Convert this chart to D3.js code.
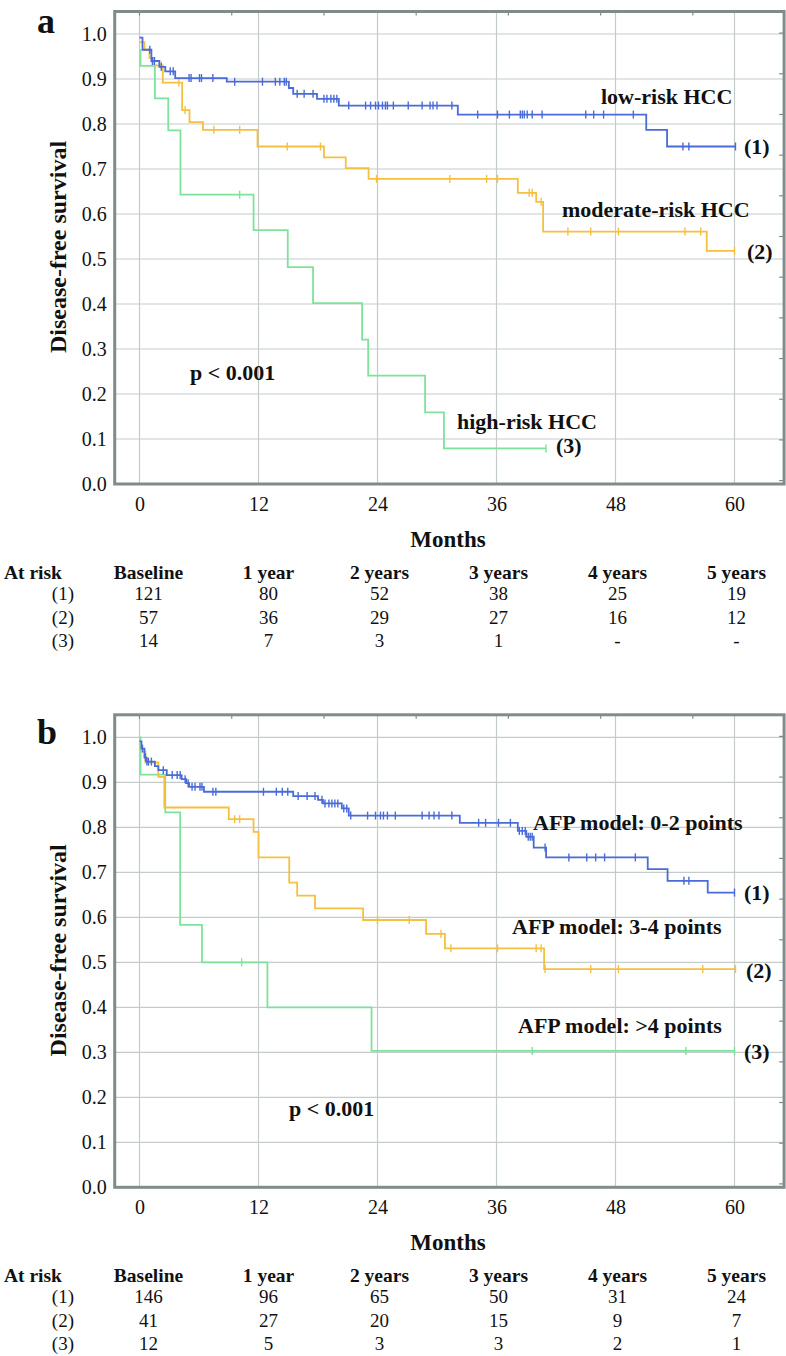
<!DOCTYPE html>
<html>
<head>
<meta charset="utf-8">
<script src="https://d3js.org/d3.v7.min.js"></script>
<style>
  body { margin: 0; background: #fff; }
  text { font-family: "Liberation Serif", "Times New Roman", serif; fill: #111; }
</style>
</head>
<body>
<script>
// ---- data ----
var months = [0, 12, 24, 36, 48, 60]
var survTicks = [0.1, 0.2, 0.3, 0.4, 0.5, 0.6, 0.7, 0.8, 0.9, 1.0]
var tableCols = ["Baseline", "1 year", "2 years", "3 years", "4 years", "5 years"]
var rowLabels = ["(1)", "(2)", "(3)"]

// panel a : [month, survival] where the curve steps to that value
var aLowSteps = [[0,0.992],[0.3,0.965],[1.2,0.94],[2.0,0.927],[2.6,0.917],[3.6,0.902],[8.8,0.894],[15.06,0.88],[15.5,0.867],[17.9,0.856],[20.1,0.841],[32.1,0.821],[51.1,0.787],[53.2,0.75]]
var aLowEnd = 60.1
var aLowCens = [1.04,1.3,1.5,2.2,3.1,3.4,5.0,5.2,6.05,6.25,7.4,9.6,12.4,13.7,14.15,14.6,14.8,15.9,16.6,17.5,18.6,18.9,19.3,19.6,19.9,21.1,22.8,23.3,23.8,24.1,24.5,24.8,25.0,25.6,27.1,28.5,29.3,29.6,30.0,31.5,34.1,36.1,37.3,38.4,38.6,38.8,39.1,39.6,40.6,45.0,45.8,46.8,49.8,54.8,55.4,60.1]
var aModSteps = [[0,0.982],[0.5,0.965],[1.0,0.947],[1.5,0.93],[2.35,0.892],[4.3,0.831],[5.04,0.804],[6.4,0.787],[11.9,0.75],[18.6,0.726],[20.8,0.702],[23.1,0.678],[38.15,0.647],[40.0,0.627],[40.7,0.561],[57.2,0.518]]
var aModEnd = 60
var aModCens = [2.2,3.97,4.6,7.5,10.1,14.9,18.25,23.9,31.3,35.0,36.1,39.3,39.6,40.5,43.2,45.5,48.3,55.0,56.6,60.0]
var aHighSteps = [[0,0.964],[0.1,0.929],[1.55,0.857],[2.9,0.786],[4.13,0.643],[11.5,0.564],[14.95,0.482],[17.5,0.402],[22.45,0.321],[23.06,0.241],[28.8,0.159],[30.7,0.079]]
var aHighEnd = 41.0
var aHighCens = [10.1, 41.0]

// panel b
var bLowSteps = [[0,0.991],[0.2,0.975],[0.5,0.955],[0.7,0.946],[1.55,0.936],[1.9,0.927],[2.75,0.916],[4.25,0.907],[4.7,0.898],[5.0,0.89],[6.5,0.879],[15.5,0.8695],[18.0,0.861],[18.5,0.853],[20.4,0.842],[21.1,0.826],[32.3,0.81],[38.15,0.792],[39.0,0.779],[39.75,0.755],[41.0,0.733],[51.25,0.707],[53.25,0.681],[57.3,0.655]]
var bLowEnd = 60
var bLowCens = [0.3,0.6,0.75,0.9,1.2,2.4,3.3,3.8,4.1,4.6,4.9,5.3,5.6,6.1,6.3,7.4,7.7,12.5,13.8,14.4,14.95,16.0,16.9,17.7,18.4,18.7,19.1,19.4,19.7,20.0,20.6,20.9,21.3,23.0,23.8,24.3,24.6,25.0,25.8,28.5,29.2,29.7,30.2,31.5,34.2,34.9,36.2,37.4,38.3,38.6,38.9,39.2,39.4,39.6,40.9,43.3,45.1,46.0,46.9,50.0,54.9,55.4,60.0]
var bMidSteps = [[0,0.976],[0.3,0.968],[0.6,0.944],[1.9,0.912],[2.5,0.844],[9.0,0.818],[11.5,0.79],[12.0,0.733],[15.1,0.677],[15.9,0.648],[17.7,0.62],[22.55,0.594],[28.9,0.563],[30.8,0.531],[40.8,0.485]]
var bMidEnd = 60.1
var bMidCens = [9.6,10.1,24.0,27.2,30.4,31.4,36.1,40.0,40.5,40.9,45.5,48.3,56.8,60.1]
var bHighSteps = [[0,1.0],[0.1,0.917],[2.6,0.833],[4.1,0.583],[6.3,0.5],[12.9,0.4],[23.4,0.303]]
var bHighEnd = 60
var bHighCens = [10.3,39.6,55.1,60]

var atRiskA = [[121,80,52,38,25,19],[57,36,29,27,16,12],[14,7,3,1,"-","-"]]
var atRiskB = [[146,96,65,50,31,24],[41,27,20,15,9,7],[12,5,3,3,2,1]]

var colors = { low: "#4a6bd8", mid: "#f5c040", high: "#7de39a" }

var svg = d3.select("body").append("svg")
  .attr("width", 786)
  .attr("height", 1356)

function drawPanel(p) {
  var x = d3.scaleLinear().domain([0, 60]).range([139.5, 734.5])
  var y = d3.scaleLinear().domain([0, 1]).range([p.y0, p.y0 - 450])
  var g = svg.append("g")
  var left = x(-2.5), right = x(65), top = y(1.05), bottom = y(0)

  // grid
  g.selectAll(".vg").data(months).enter().append("line")
    .attr("x1", d => x(d)).attr("x2", d => x(d))
    .attr("y1", top).attr("y2", bottom)
    .attr("stroke", "#c5cbcb").attr("stroke-width", 1.2)
  g.selectAll(".hg").data(survTicks).enter().append("line")
    .attr("x1", left).attr("x2", right)
    .attr("y1", d => y(d)).attr("y2", d => y(d))
    .attr("stroke", "#c5cbcb").attr("stroke-width", 1.2)

  // small ticks on top and right edges
  g.selectAll(".tt").data(d3.range(0, 62, 9.3)).enter().append("line")
    .attr("x1", d => x(d)).attr("x2", d => x(d))
    .attr("y1", top).attr("y2", top + 4)
    .attr("stroke", "#808c8c").attr("stroke-width", 1.2)
  g.selectAll(".rt").data(d3.range(0, 12)).enter().append("line")
    .attr("x1", right - 5).attr("x2", right)
    .attr("y1", d => y(1.002 - d * 0.0904)).attr("y2", d => y(1.002 - d * 0.0904))
    .attr("stroke", "#808c8c").attr("stroke-width", 1.2)

  // curves
  var line = d3.line().x(d => x(d[0])).y(d => y(d[1])).curve(d3.curveStepAfter)
  p.curves.forEach(function(c) {
    var pts = c.steps.concat([[c.end, c.steps[c.steps.length - 1][1]]])
    g.append("path").datum(pts)
      .attr("d", line)
      .attr("fill", "none")
      .attr("stroke", c.color)
      .attr("stroke-width", 1.8)
    var at = function(t) {
      var s = c.steps[0][1]
      c.steps.forEach(function(st) { if (st[0] <= t) s = st[1] })
      return s
    }
    g.selectAll(null).data(c.cens).enter().append("line")
      .attr("x1", d => x(d)).attr("x2", d => x(d))
      .attr("y1", d => y(at(d)) - 4).attr("y2", d => y(at(d)) + 4)
      .attr("stroke", c.color).attr("stroke-width", 1.4)
  })

  // frame
  g.append("rect")
    .attr("x", left).attr("y", top)
    .attr("width", right - left).attr("height", bottom - top)
    .attr("fill", "none").attr("stroke", "#808c8c").attr("stroke-width", 3)

  // axes labels
  var ya = d3.axisLeft(y).tickValues([0].concat(survTicks)).tickFormat(d3.format(".1f")).tickSize(0).tickPadding(8)
  var yg = g.append("g").attr("transform", "translate(" + left + ",0)").call(ya)
  var xa = d3.axisBottom(x).tickValues(months).tickSize(0).tickPadding(13)
  var xg = g.append("g").attr("transform", "translate(0," + bottom + ")").call(xa)
  ;[yg, xg].forEach(function(a) {
    a.select(".domain").remove()
    a.selectAll("text").attr("font-size", 20).attr("font-family", "Liberation Serif").attr("fill", "#111")
  })

  g.append("text")
    .attr("transform", "translate(66," + (p.y0 - 237) + ") rotate(-90)")
    .attr("text-anchor", "middle")
    .attr("font-size", 24).attr("font-weight", "bold")
    .text("Disease-free survival")

  g.append("text")
    .attr("x", 448).attr("y", p.y0 + 55).attr("dy", "0.35em")
    .attr("text-anchor", "middle")
    .attr("font-size", 23).attr("font-weight", "bold")
    .text("Months")

  g.append("text")
    .attr("x", 37).attr("y", p.letterY)
    .attr("font-size", 36).attr("font-weight", "bold")
    .text(p.letter)

  p.notes.forEach(function(n) {
    g.append("text")
      .attr("x", n[0]).attr("y", n[1]).attr("dy", "0.33em")
      .attr("font-size", 22).attr("font-weight", "bold")
      .text(n[2])
  })

  // at-risk table
  var colOff = [9, 10, 2, 2, 2, 2]
  var headY = p.y0 + 87.7
  g.append("text").attr("x", 4).attr("y", headY).attr("dy", "0.35em")
    .attr("font-size", 19.5).attr("font-weight", "bold").text("At risk")
  g.selectAll(".hd").data(tableCols).enter().append("text")
    .attr("x", (d, i) => x(months[i]) + colOff[i]).attr("y", headY).attr("dy", "0.35em")
    .attr("text-anchor", "middle")
    .attr("font-size", 19.5).attr("font-weight", "bold")
    .text(d => d)
  var rowY = [p.y0 + 109.5, p.y0 + 133, p.y0 + 156.5]
  p.atRisk.forEach(function(row, r) {
    g.append("text").attr("x", 74).attr("y", rowY[r]).attr("dy", "0.35em")
      .attr("text-anchor", "end").attr("font-size", 19).text(rowLabels[r])
    g.selectAll(null).data(row).enter().append("text")
      .attr("x", (d, i) => x(months[i]) + colOff[i]).attr("y", rowY[r]).attr("dy", "0.35em")
      .attr("text-anchor", "middle").attr("font-size", 19)
      .text(d => d)
  })
}

drawPanel({
  y0: 484, letter: "a", letterY: 33,
  curves: [
    { steps: aHighSteps, end: aHighEnd, cens: aHighCens, color: colors.high },
    { steps: aModSteps, end: aModEnd, cens: aModCens, color: colors.mid },
    { steps: aLowSteps, end: aLowEnd, cens: aLowCens, color: colors.low }
  ],
  notes: [
    [601, 96.7, "low-risk HCC"], [744, 146.7, "(1)"],
    [562, 210, "moderate-risk HCC"], [747, 251.7, "(2)"],
    [457, 421.7, "high-risk HCC"], [556, 446, "(3)"],
    [190, 373, "p < 0.001"]
  ],
  atRisk: atRiskA
})

drawPanel({
  y0: 1187.3, letter: "b", letterY: 744,
  curves: [
    { steps: bHighSteps, end: bHighEnd, cens: bHighCens, color: colors.high },
    { steps: bMidSteps, end: bMidEnd, cens: bMidCens, color: colors.mid },
    { steps: bLowSteps, end: bLowEnd, cens: bLowCens, color: colors.low }
  ],
  notes: [
    [533, 822.7, "AFP model: 0-2 points"], [744, 893, "(1)"],
    [512, 927, "AFP model: 3-4 points"], [746, 970.7, "(2)"],
    [518, 1026, "AFP model: >4 points"], [744, 1052, "(3)"],
    [289, 1109, "p < 0.001"]
  ],
  atRisk: atRiskB
})
</script>
</body>
</html>
